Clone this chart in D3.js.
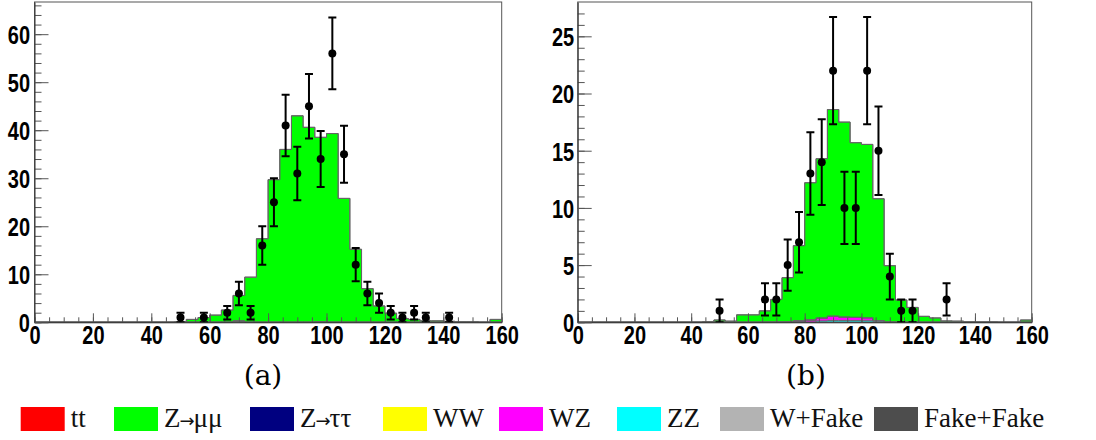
<!DOCTYPE html>
<html>
<head>
<meta charset="utf-8">
<script src="https://cdn.jsdelivr.net/npm/d3@7"></script>
<style>
  body { margin: 0; background: #ffffff; }
  svg { display: block; }
</style>
</head>
<body>
<svg id="chart" width="1096" height="440"></svg>
<script>
// Dimuon invariant mass, 4 GeV bins from 0 to 160
const binEdges = [0,4,8,12,16,20,24,28,32,36,40,44,48,52,56,60,64,68,72,76,80,
                  84,88,92,96,100,104,108,112,116,120,124,128,132,136,140,144,148,152,156,160];
const xTickLabels = [0,20,40,60,80,100,120,140,160];
const yTickLabelsA = [0,10,20,30,40,50,60];
const yTickLabelsB = [0,5,10,15,20,25];

const processes = ["tt", "Z→μμ", "Z→ττ", "WW", "WZ", "ZZ", "W+Fake", "Fake+Fake"];
const processColors = ["#ff0000", "#00ff00", "#000080", "#ffff00", "#ff00ff", "#00ffff", "#b3b3b3", "#4d4d4d"];

// Expected yields per bin, selection (a); empty arrays mean no contribution
const ttA = [];
const zmumuA = [0,0,0,0,0,0,0,0,0,0,0,0,
                0.1,0.6,1.0,1.5,2.55,5.35,9.4,17.4,
                29.7,36.0,43.0,40.6,38.4,39.3,25.8,15.2,
                7.0,3.4,1.9,0.8,0.6,0.3,0.3,0.2,
                0.1,0.1,0,0.6];
const zttA = [];
const wwA = [];
const wzA = [];
const zzA = [];
const wfakeA = [0,0,0,0,0,0,0,0,0,0,0,0,0,0,0,0,0,0.25,0,0,0,0,0,0,0.12,0,0,0,0,0,0,0,0,0,0,0,0,0,0,0];
const fakefakeA = [];

// Expected yields per bin, selection (b)
const ttB = [];
const zmumuB = [0,0,0,0,0,0,0,0,0,0,0,0.05,
                0.2,0.1,0.65,0.65,0.97,1.96,3.85,6.55,
                11.97,13.93,18.07,17.05,15.27,15.16,10.65,4.93,
                1.95,1.3,0.52,0.38,0.12,0.1,0.03,0.02,
                0.03,0,0,0.2];
const zttB = [0,0,0,0,0,0,0,0,0,0,0,0,0,0,0,0,0.03,0.04,0.05,0.05,0.05,0,0,0,0,0,0,0,0,0,0,0,0,0,0,0,0,0,0,0];
const wwB = [];
const wzB = [0,0,0,0,0,0,0,0,0,0,0,0,0,0,0,0,0,0,0,0.1,0.18,0.25,0.38,0.3,0.28,0.25,0.05,0.02,0,0,0,0,0,0,0,0,0,0,0,0];
const zzB = [0,0,0,0,0,0,0,0,0,0,0,0,0,0,0,0,0,0,0,0,0,0.12,0.15,0.15,0.15,0.14,0.1,0,0,0,0,0,0,0,0,0,0,0,0,0];
const wfakeB = [];
const fakefakeB = [];

// Observed events (bin centre, count)
const dataMassA  = [50,58,66,70,74,78,82,86,90,94,98,102,106,110,114,118,122,126,130,134,142];
const dataCountA = [1,1,2,6,2,16,25,41,31,45,34,56,35,12,6,4,2,1,2,1,1];
const dataMassB  = [50,66,70,74,78,82,86,90,94,98,102,106,110,114,118,130];
const dataCountB = [1,2,2,5,7,13,14,22,10,10,22,15,4,1,1,2];

const svg = d3.select("#chart");
const defs = svg.append("defs");

// stacking order, bottom to top
const stackOrder = ["Fake+Fake", "W+Fake", "ZZ", "WZ", "WW", "Z→ττ", "Z→μμ", "tt"];
const colorOf = d3.scaleOrdinal().domain(processes).range(processColors);

const panels = [
  { id: "a", left: 34.5, right: 501.7, top: 2, bottom: 322.3, yMax: 66.7, yTicks: yTickLabelsA, yMinorStep: 2, yLabelPad: 4.5,
    series: { "tt": ttA, "Z→μμ": zmumuA, "Z→ττ": zttA, "WW": wwA, "WZ": wzA, "ZZ": zzA, "W+Fake": wfakeA, "Fake+Fake": fakefakeA },
    mass: dataMassA, count: dataCountA, label: "(a)", labelX: 263 },
  { id: "b", left: 577.7, right: 1031.7, top: 2, bottom: 322.3, yMax: 28.0, yTicks: yTickLabelsB, yMinorStep: 1, yLabelPad: 3.5,
    series: { "tt": ttB, "Z→μμ": zmumuB, "Z→ττ": zttB, "WW": wwB, "WZ": wzB, "ZZ": zzB, "W+Fake": wfakeB, "Fake+Fake": fakefakeB },
    mass: dataMassB, count: dataCountB, label: "(b)", labelX: 806 }
];

const labelFont = "'Liberation Sans', Arial, sans-serif";
const stretch = 1.3;

panels.forEach(p => {
  const x = d3.scaleLinear().domain([0, 160]).range([p.left, p.right]);
  const y = d3.scaleLinear().domain([0, p.yMax]).range([p.bottom, p.top]);
  const g = svg.append("g");

  defs.append("clipPath").attr("id", "clip-" + p.id)
    .append("rect").attr("x", p.left).attr("y", p.top)
    .attr("width", p.right - p.left).attr("height", p.bottom - p.top);

  // stacked expectation
  const rows = binEdges.slice(0, -1).map((lo, i) => {
    const r = { lo };
    stackOrder.forEach(k => { r[k] = p.series[k][i] || 0; });
    return r;
  });
  const last = Object.assign({}, rows[rows.length - 1], { lo: binEdges[binEdges.length - 1] });
  rows.push(last);
  const layers = d3.stack().keys(stackOrder)(rows);

  const area = d3.area()
    .x(d => x(d.data.lo)).y0(d => y(d[0])).y1(d => y(d[1]))
    .curve(d3.curveStepAfter);
  const topLine = d3.line()
    .x(d => x(d.data.lo)).y(d => y(d[1]))
    .curve(d3.curveStepAfter);

  const hist = g.append("g").attr("clip-path", `url(#clip-${p.id})`);
  hist.selectAll("path.fill").data(layers).join("path")
    .attr("class", "fill")
    .attr("d", area)
    .attr("fill", d => colorOf(d.key))
    .attr("stroke", "none");
  hist.selectAll("path.edge").data(layers).join("path")
    .attr("class", "edge")
    .attr("d", topLine)
    .attr("fill", "none")
    .attr("stroke", "#666")
    .attr("stroke-width", 1);

  // frame
  g.append("rect")
    .attr("x", p.left).attr("y", p.top)
    .attr("width", p.right - p.left).attr("height", p.bottom - p.top)
    .attr("fill", "none").attr("stroke", "#555").attr("stroke-width", 1);

  // x axis: inward ticks, major every 20, minor every 5
  const xMinor = d3.axisBottom(x).tickValues(d3.range(0, 161, 5)).tickSizeInner(-5).tickSizeOuter(0).tickFormat("");
  g.append("g").attr("transform", `translate(0,${p.bottom})`).call(xMinor)
    .call(a => a.selectAll("line").attr("stroke", "#555"))
    .call(a => a.select(".domain").remove());
  const xMajor = d3.axisBottom(x).tickValues(xTickLabels).tickSizeInner(-9).tickSizeOuter(0);
  const xa = g.append("g").attr("transform", `translate(0,${p.bottom})`).call(xMajor);
  xa.select(".domain").attr("stroke", "#333");
  xa.selectAll("line").attr("stroke", "#555");
  xa.selectAll("text")
    .attr("y", 0).attr("dy", null)
    .attr("transform", `translate(0,${21.7}) scale(1,${stretch})`)
    .attr("font-family", labelFont).attr("font-weight", "bold")
    .attr("font-size", 20).attr("fill", "#000");

  // y axis
  const yMinor = d3.axisLeft(y).tickValues(d3.range(0, p.yMax, p.yMinorStep)).tickSizeInner(-7).tickSizeOuter(0).tickFormat("");
  g.append("g").attr("transform", `translate(${p.left},0)`).call(yMinor)
    .call(a => a.selectAll("line").attr("stroke", "#555"))
    .call(a => a.select(".domain").remove());
  const yMajor = d3.axisLeft(y).tickValues(p.yTicks).tickSizeInner(-14).tickSizeOuter(0);
  const ya = g.append("g").attr("transform", `translate(${p.left},0)`).call(yMajor);
  ya.select(".domain").attr("stroke", "#333");
  ya.selectAll("line").attr("stroke", "#555");
  ya.selectAll("text")
    .attr("x", 0).attr("dy", "0.36em")
    .attr("transform", `translate(${-p.yLabelPad},0) scale(1,${stretch})`)
    .attr("text-anchor", "end")
    .attr("font-family", labelFont).attr("font-weight", "bold")
    .attr("font-size", 20).attr("fill", "#000");

  // observed data with Poisson errors
  const pts = p.mass.map((m, i) => ({ m, n: p.count[i], e: Math.sqrt(p.count[i]) }));
  const dg = g.append("g").attr("clip-path", `url(#clip-${p.id})`);
  const pt = dg.selectAll("g.pt").data(pts).join("g").attr("class", "pt");
  pt.append("line")
    .attr("x1", d => x(d.m)).attr("x2", d => x(d.m))
    .attr("y1", d => y(d.n - d.e)).attr("y2", d => y(d.n + d.e))
    .attr("stroke", "#000").attr("stroke-width", 2);
  pt.append("line")
    .attr("x1", d => x(d.m) - 4).attr("x2", d => x(d.m) + 4)
    .attr("y1", d => y(d.n + d.e)).attr("y2", d => y(d.n + d.e))
    .attr("stroke", "#000").attr("stroke-width", 2);
  pt.append("line")
    .attr("x1", d => x(d.m) - 4).attr("x2", d => x(d.m) + 4)
    .attr("y1", d => y(d.n - d.e)).attr("y2", d => y(d.n - d.e))
    .attr("stroke", "#000").attr("stroke-width", 2);
  pt.append("circle")
    .attr("cx", d => x(d.m)).attr("cy", d => y(d.n)).attr("r", 4)
    .attr("fill", "#000");

  // panel caption
  svg.append("text")
    .attr("x", p.labelX).attr("y", 385)
    .attr("text-anchor", "middle")
    .attr("font-family", "'DejaVu Serif', serif")
    .attr("font-size", 28)
    .attr("fill", "#000")
    .text(p.label);
});

// legend
const legendSwatchX = [20.7, 114, 250, 383, 499, 617, 720, 874];
const serifFont = "'Liberation Serif', 'Times New Roman', serif";
const legend = svg.append("g");
processes.forEach((name, i) => {
  legend.append("rect")
    .attr("x", legendSwatchX[i]).attr("y", 407)
    .attr("width", 44).attr("height", 24)
    .attr("fill", colorOf(name));
  const t = legend.append("text")
    .attr("x", legendSwatchX[i] + 50).attr("y", 427)
    .attr("font-family", serifFont)
    .attr("font-size", 27)
    .attr("fill", "#111");
  // the arrow is set in its own tspan so that it stays compact between the letters
  const parts = name.split("→");
  if (parts.length === 2) {
    t.append("tspan").text(parts[0]);
    t.append("tspan").attr("font-family", "'DejaVu Sans', sans-serif").attr("font-size", 18)
      .attr("dx", -1).text("→");
    t.append("tspan").attr("dx", -1).text(parts[1]);
  } else {
    t.text(name);
  }
});
</script>
</body>
</html>
